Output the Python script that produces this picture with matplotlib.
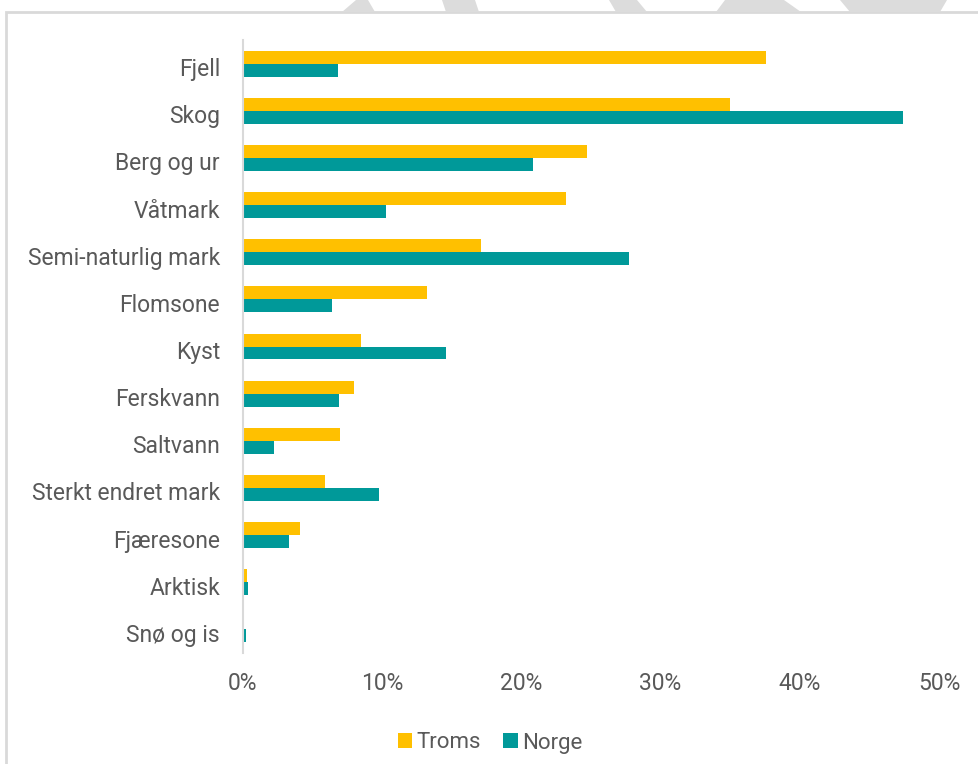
import matplotlib
matplotlib.use("Agg")
import matplotlib.pyplot as plt
from matplotlib.patches import Rectangle, Polygon
from matplotlib.ticker import FuncFormatter
from matplotlib.transforms import ScaledTranslation
import numpy as np

# Data (andel av areal, %)
kategorier = ["Fjell", "Skog", "Berg og ur", "Våtmark", "Semi-naturlig mark",
              "Flomsone", "Kyst", "Ferskvann", "Saltvann", "Sterkt endret mark",
              "Fjæresone", "Arktisk", "Snø og is"]
troms = [37.6, 35.0, 24.7, 23.2, 17.1, 13.2, 8.5, 8.0, 7.0, 5.9, 4.1, 0.3, 0.0]
norge = [6.8, 47.4, 20.8, 10.3, 27.7, 6.4, 14.6, 6.9, 2.2, 9.8, 3.3, 0.35, 0.2]
xticks = [0, 10, 20, 30, 40, 50]

farge_troms = "#FFC000"
farge_norge = "#009999"
tekst_farge = "#595959"

plt.rcParams["font.family"] = ["Roboto", "DejaVu Sans"]

W, H = 979, 764
fig = plt.figure(figsize=(W / 100, H / 100), dpi=100)

# Ramme rundt diagrammet
fig.patches.append(Rectangle((6 / W, -0.1), 1.1, 1 - 12 / H + 0.1,
                             transform=fig.transFigure, fill=False,
                             edgecolor="#D9D9D9", linewidth=2))

# Grå bakgrunnsformer øverst (vannmerke)
for pts in [
    [(356, 0), (368, 0), (375, 12), (342, 12)],
    [(442, 0), (475, 0), (479, 12), (446, 12)],
    [(609, 0), (637, 0), (647, 12), (616, 12)],
    [(725, 0), (784, 0), (801, 12), (716, 12)],
    [(840, 0), (947, 0), (940, 12), (850, 12)],
]:
    fig.patches.append(Polygon([(x / W, 1 - y / H) for x, y in pts],
                               transform=fig.transFigure, closed=True,
                               facecolor="#DCDCDC", edgecolor="none"))

ax = fig.add_axes([243 / W, 1 - 653 / H, (939 - 243) / W, (653 - 40) / H])

y = np.arange(len(kategorier))
h = 0.275
ax.barh(y - h / 2, troms, height=h, color=farge_troms, label="Troms")
ax.barh(y + h / 2, norge, height=h, color=farge_norge, label="Norge")

ax.set_ylim(len(kategorier) - 0.5, -0.5)
ax.set_xlim(0, 50)
ax.set_yticks(y)
ax.set_yticklabels(kategorier)
ax.set_xticks(xticks)
ax.xaxis.set_major_formatter(FuncFormatter(lambda v, p: f"{v:.0f}%"))

for s in ["top", "right", "bottom"]:
    ax.spines[s].set_visible(False)
ax.spines["left"].set_color("#D9D9D9")
ax.spines["left"].set_linewidth(1.5)
ax.tick_params(axis="both", length=0, labelsize=16.5, labelcolor=tekst_farge)
ax.tick_params(axis="y", pad=16.5)
ax.tick_params(axis="x", pad=14)
flytt = ScaledTranslation(0, -2.5 / 72, fig.dpi_scale_trans)
for lbl in ax.get_yticklabels():
    lbl.set_va("center_baseline")
    lbl.set_transform(lbl.get_transform() + flytt)

fig.legend(loc="center", bbox_to_anchor=(490 / W, 1 - 743 / H), ncol=2,
           frameon=False, fontsize=16, labelcolor=tekst_farge,
           handlelength=0.65, handleheight=0.65, handletextpad=0.2,
           columnspacing=1.0)

fig.savefig("out.png", dpi=100)
